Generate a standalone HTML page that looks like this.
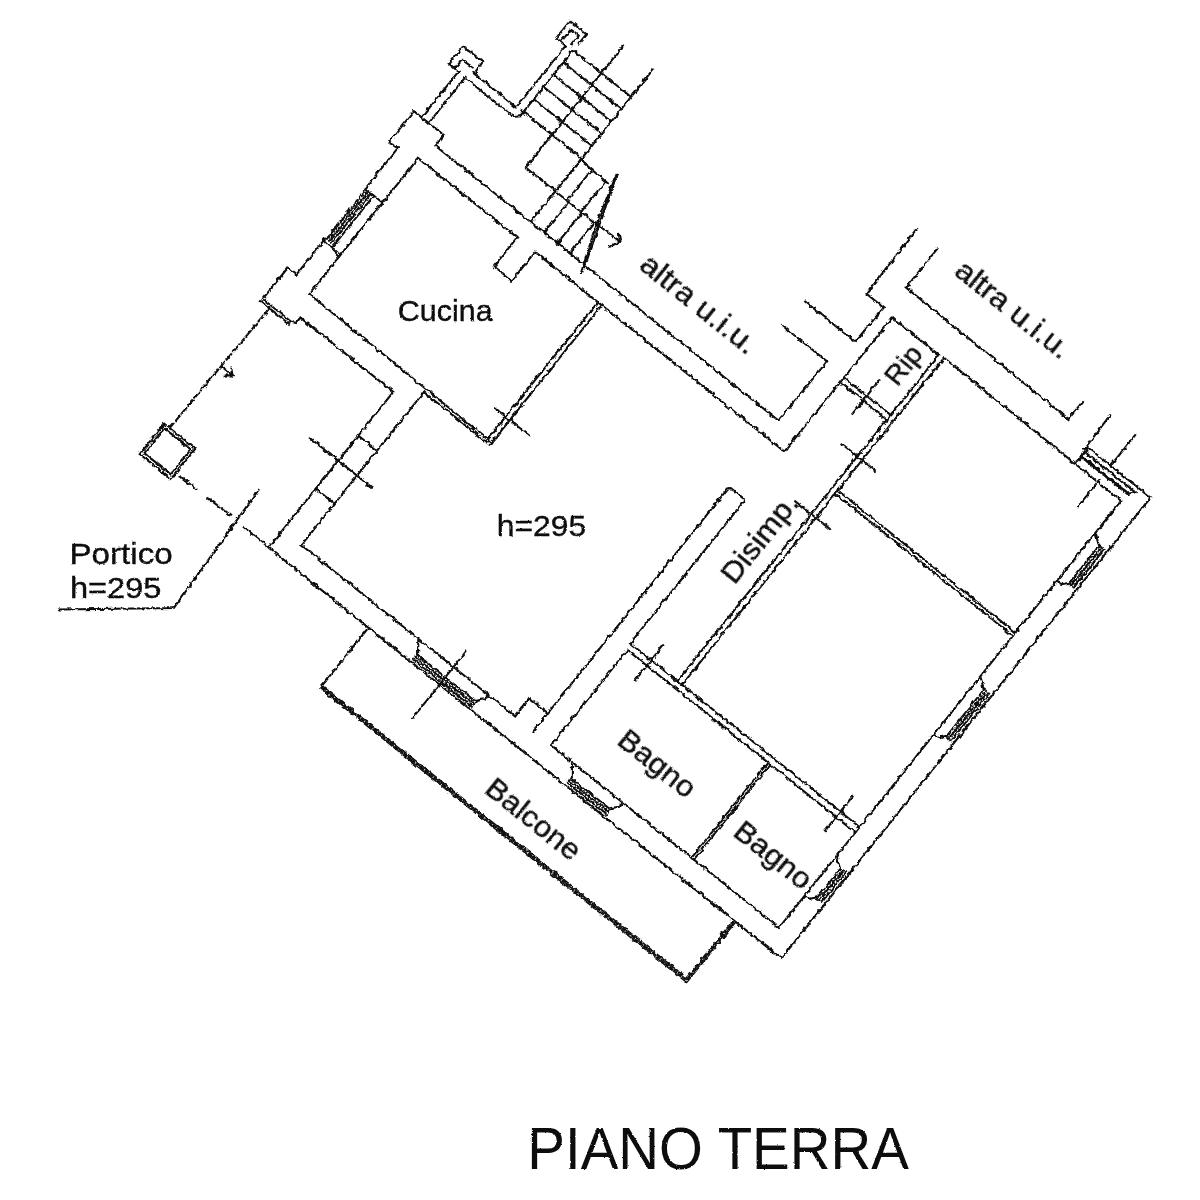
<!DOCTYPE html>
<html><head><meta charset="utf-8"><title>Piano Terra</title>
<style>
html,body{margin:0;padding:0;background:#fff;}
body{width:1200px;height:1200px;overflow:hidden;}
svg{display:block;}
text{font-family:"Liberation Sans",sans-serif;fill:#111;}
</style></head><body>
<svg width="1200" height="1200" viewBox="0 0 1200 1200">
<defs>
<filter id="rough" x="0" y="0" width="1200" height="1200" filterUnits="userSpaceOnUse">
<feTurbulence type="fractalNoise" baseFrequency="0.2" numOctaves="3" seed="7" result="n"/>
<feDisplacementMap in="SourceGraphic" in2="n" scale="4.2" xChannelSelector="R" yChannelSelector="G" result="d"/>
<feGaussianBlur in="d" stdDeviation="0.45"/>
</filter>
<filter id="soft" x="0" y="0" width="1200" height="1200" filterUnits="userSpaceOnUse">
<feTurbulence type="fractalNoise" baseFrequency="0.5" numOctaves="1" seed="3" result="n"/>
<feDisplacementMap in="SourceGraphic" in2="n" scale="2.2" xChannelSelector="R" yChannelSelector="G" result="d"/>
<feGaussianBlur in="d" stdDeviation="0.3"/>
</filter>
</defs>
<rect width="1200" height="1200" fill="#fff"/>
<g filter="url(#rough)" fill="none" stroke="#0c0c0c" stroke-width="2.1" stroke-linecap="square" stroke-linejoin="miter">
<g transform="rotate(38.7)">
<path d="M403.0,-133.0 L392.5,-132.0 L392.5,-172.0 L431.0,-172.0 L431.0,-158.5 L870.5,-158.5 L871.5,-235.0 L815.0,-235.0"/>
<path d="M817.0,-268.0 L881.0,-268.0 L882.0,-312.5 L860.0,-312.5 L858.5,-394.0"/>
<path d="M425.0,36.0 L425.5,-138.0 L552.0,-138.0 L552.0,-101.0 L575.0,-101.0 L575.0,-138.0 L894.5,-138.0 L895.0,-310.0 L955.0,-310.0"/>
<path d="M425.0,36.0 L660.0,38.0"/>
<path d="M576.0,41.0 L656.0,41.0"/>
<path d="M655.0,38.0 L655.5,-138.0"/>
<path d="M660.5,41.0 L660.5,-138.0"/>
<path d="M642.0,9.0 L685.0,9.0"/>
<path d="M403.0,-17.0 L403.0,29.0 L392.0,29.0 L392.0,69.0 L428.0,69.0 L433.0,67.0 L433.0,60.0 L552.0,60.0 L552.0,259.5 L1209.0,259.5 L1209.0,-331.0 L1128.0,-331.0"/>
<path d="M403.0,-133.0 L403.0,-81.0"/>
<path d="M403.0,-81.0 L424.0,-81.0"/>
<path d="M403.0,-15.0 L424.0,-13.0"/>
<path d="M414.0,-81.0 L414.0,-15.0"/>
<path d="M404.5,-79.0 L404.5,-18.0" stroke-width="1.9"/>
<path d="M407.5,-79.0 L407.5,-18.0" stroke-width="1.9"/>
<path d="M410.5,-79.0 L410.5,-18.0" stroke-width="1.9"/>
<path d="M403.0,-78.0 L411.0,-76.5" stroke-width="1.0"/>
<path d="M403.0,-74.2 L411.0,-72.7" stroke-width="1.0"/>
<path d="M403.0,-70.4 L411.0,-68.9" stroke-width="1.0"/>
<path d="M403.0,-66.6 L411.0,-65.1" stroke-width="1.0"/>
<path d="M403.0,-62.8 L411.0,-61.3" stroke-width="1.0"/>
<path d="M403.0,-59.0 L411.0,-57.5" stroke-width="1.0"/>
<path d="M403.0,-55.2 L411.0,-53.7" stroke-width="1.0"/>
<path d="M403.0,-51.4 L411.0,-49.9" stroke-width="1.0"/>
<path d="M403.0,-47.6 L411.0,-46.1" stroke-width="1.0"/>
<path d="M403.0,-43.8 L411.0,-42.3" stroke-width="1.0"/>
<path d="M403.0,-40.0 L411.0,-38.5" stroke-width="1.0"/>
<path d="M403.0,-36.2 L411.0,-34.7" stroke-width="1.0"/>
<path d="M403.0,-32.4 L411.0,-30.9" stroke-width="1.0"/>
<path d="M403.0,-28.6 L411.0,-27.1" stroke-width="1.0"/>
<path d="M403.0,-24.8 L411.0,-23.3" stroke-width="1.0"/>
<path d="M403.0,-21.0 L411.0,-19.5" stroke-width="1.0"/>
<path d="M392.0,72.0 L428.0,72.0"/>
<path d="M576.0,41.0 L576.0,237.0 L850.0,237.0 L850.0,214.0 L874.0,214.0"/>
<path d="M552.0,116.0 L574.0,116.0"/>
<path d="M552.0,184.0 L574.0,184.0"/>
<path d="M515.0,148.0 L595.0,148.0"/>
<path d="M873.5,237.0 L873.5,-74.0 L875.5,-76.0 L892.0,-76.0 L894.0,-74.0 L894.0,108.0"/>
<path d="M896.0,115.0 L896.0,237.0 L1076.0,237.0"/>
<path d="M1079.0,237.0 L1188.0,237.0"/>
<path d="M954.5,-310.0 L954.5,108.0"/>
<path d="M960.5,-310.0 L960.5,108.0"/>
<path d="M895.0,-233.0 L955.0,-233.0"/>
<path d="M897.0,-227.0 L955.0,-227.0"/>
<path d="M924.0,-253.0 L924.0,-210.0"/>
<path d="M934.0,-180.0 L978.0,-180.0"/>
<path d="M934.0,-106.0 L978.0,-106.0"/>
<path d="M960.0,-311.0 L1188.0,-310.0"/>
<path d="M887.0,-392.0 L887.0,-342.0 L1096.0,-341.0 L1096.0,-364.0"/>
<path d="M1128.0,-310.0 L1130.0,-320.0 L1129.0,-331.0"/>
<path d="M1130.0,-320.0 L1189.0,-320.0" stroke-width="3.4"/>
<path d="M1131.0,-325.5 L1192.0,-325.5" stroke-width="2.0"/>
<path d="M1189.0,-320.0 L1194.0,-326.0"/>
<path d="M1127.0,-327.0 L1126.0,-370.0"/>
<path d="M1158.0,-332.0 L1158.0,-370.0"/>
<path d="M1158.0,-279.0 L1158.0,-313.0"/>
<path d="M1188.0,-310.0 L1188.0,237.0"/>
<path d="M960.0,-141.0 L1188.0,-141.0"/>
<path d="M960.0,-137.0 L1188.0,-137.0"/>
<path d="M894.0,108.0 L1188.0,108.0"/>
<path d="M896.0,115.0 L1076.0,115.0"/>
<path d="M1079.0,115.0 L1188.0,115.0"/>
<path d="M921.0,89.0 L921.0,134.0"/>
<path d="M1163.3,88.0 L1163.3,133.0"/>
<path d="M1076.0,115.0 L1076.0,237.0"/>
<path d="M1079.0,115.0 L1079.0,237.0"/>
<path d="M1189.5,-268.0 L1199.0,-261.0"/>
<path d="M1189.5,-207.0 L1194.0,-208.0 L1199.0,-214.0"/>
<path d="M1199.0,-262.0 L1199.0,-213.0" stroke-width="1.9"/>
<path d="M1202.2,-262.0 L1202.2,-213.0" stroke-width="1.9"/>
<path d="M1205.4,-262.0 L1205.4,-213.0" stroke-width="1.9"/>
<path d="M1199.0,-262.0 L1206.0,-260.5" stroke-width="1.0"/>
<path d="M1199.0,-258.5 L1206.0,-257.0" stroke-width="1.0"/>
<path d="M1199.0,-255.0 L1206.0,-253.5" stroke-width="1.0"/>
<path d="M1199.0,-251.5 L1206.0,-250.0" stroke-width="1.0"/>
<path d="M1199.0,-248.0 L1206.0,-246.5" stroke-width="1.0"/>
<path d="M1199.0,-244.5 L1206.0,-243.0" stroke-width="1.0"/>
<path d="M1199.0,-241.0 L1206.0,-239.5" stroke-width="1.0"/>
<path d="M1199.0,-237.5 L1206.0,-236.0" stroke-width="1.0"/>
<path d="M1199.0,-234.0 L1206.0,-232.5" stroke-width="1.0"/>
<path d="M1199.0,-230.5 L1206.0,-229.0" stroke-width="1.0"/>
<path d="M1199.0,-227.0 L1206.0,-225.5" stroke-width="1.0"/>
<path d="M1199.0,-223.5 L1206.0,-222.0" stroke-width="1.0"/>
<path d="M1199.0,-220.0 L1206.0,-218.5" stroke-width="1.0"/>
<path d="M1199.0,-216.5 L1206.0,-215.0" stroke-width="1.0"/>
<path d="M1199.0,-213.0 L1206.0,-211.5" stroke-width="1.0"/>
<path d="M1189.5,-84.0 L1199.0,-77.0"/>
<path d="M1189.5,-11.0 L1194.0,-12.0 L1199.0,-18.0"/>
<path d="M1199.0,-78.0 L1199.0,-17.0" stroke-width="1.9"/>
<path d="M1202.2,-78.0 L1202.2,-17.0" stroke-width="1.9"/>
<path d="M1205.4,-78.0 L1205.4,-17.0" stroke-width="1.9"/>
<path d="M1199.0,-78.0 L1206.0,-76.5" stroke-width="1.0"/>
<path d="M1199.0,-74.4 L1206.0,-72.9" stroke-width="1.0"/>
<path d="M1199.0,-70.8 L1206.0,-69.3" stroke-width="1.0"/>
<path d="M1199.0,-67.2 L1206.0,-65.7" stroke-width="1.0"/>
<path d="M1199.0,-63.6 L1206.0,-62.1" stroke-width="1.0"/>
<path d="M1199.0,-60.1 L1206.0,-58.6" stroke-width="1.0"/>
<path d="M1199.0,-56.5 L1206.0,-55.0" stroke-width="1.0"/>
<path d="M1199.0,-52.9 L1206.0,-51.4" stroke-width="1.0"/>
<path d="M1199.0,-49.3 L1206.0,-47.8" stroke-width="1.0"/>
<path d="M1199.0,-45.7 L1206.0,-44.2" stroke-width="1.0"/>
<path d="M1199.0,-42.1 L1206.0,-40.6" stroke-width="1.0"/>
<path d="M1199.0,-38.5 L1206.0,-37.0" stroke-width="1.0"/>
<path d="M1199.0,-34.9 L1206.0,-33.4" stroke-width="1.0"/>
<path d="M1199.0,-31.4 L1206.0,-29.9" stroke-width="1.0"/>
<path d="M1199.0,-27.8 L1206.0,-26.3" stroke-width="1.0"/>
<path d="M1199.0,-24.2 L1206.0,-22.7" stroke-width="1.0"/>
<path d="M1199.0,-20.6 L1206.0,-19.1" stroke-width="1.0"/>
<path d="M1199.0,-17.0 L1206.0,-15.5" stroke-width="1.0"/>
<path d="M1189.5,146.0 L1199.0,153.0"/>
<path d="M1189.5,196.0 L1194.0,195.0 L1199.0,189.0"/>
<path d="M1199.0,152.0 L1199.0,190.0" stroke-width="1.9"/>
<path d="M1202.2,152.0 L1202.2,190.0" stroke-width="1.9"/>
<path d="M1205.4,152.0 L1205.4,190.0" stroke-width="1.9"/>
<path d="M1199.0,152.0 L1206.0,153.5" stroke-width="1.0"/>
<path d="M1199.0,155.8 L1206.0,157.3" stroke-width="1.0"/>
<path d="M1199.0,159.6 L1206.0,161.1" stroke-width="1.0"/>
<path d="M1199.0,163.4 L1206.0,164.9" stroke-width="1.0"/>
<path d="M1199.0,167.2 L1206.0,168.7" stroke-width="1.0"/>
<path d="M1199.0,171.0 L1206.0,172.5" stroke-width="1.0"/>
<path d="M1199.0,174.8 L1206.0,176.3" stroke-width="1.0"/>
<path d="M1199.0,178.6 L1206.0,180.1" stroke-width="1.0"/>
<path d="M1199.0,182.4 L1206.0,183.9" stroke-width="1.0"/>
<path d="M1199.0,186.2 L1206.0,187.7" stroke-width="1.0"/>
<path d="M1199.0,190.0 L1206.0,191.5" stroke-width="1.0"/>
<path d="M924.0,238.5 L933.0,250.0"/>
<path d="M988.0,238.5 L987.0,243.0 L981.0,250.0"/>
<path d="M932.0,250.0 L982.0,250.0" stroke-width="1.9"/>
<path d="M932.0,253.2 L982.0,253.2" stroke-width="1.9"/>
<path d="M932.0,256.4 L982.0,256.4" stroke-width="1.9"/>
<path d="M932.0,250.0 L933.5,257.0" stroke-width="1.0"/>
<path d="M935.6,250.0 L937.1,257.0" stroke-width="1.0"/>
<path d="M939.1,250.0 L940.6,257.0" stroke-width="1.0"/>
<path d="M942.7,250.0 L944.2,257.0" stroke-width="1.0"/>
<path d="M946.3,250.0 L947.8,257.0" stroke-width="1.0"/>
<path d="M949.9,250.0 L951.4,257.0" stroke-width="1.0"/>
<path d="M953.4,250.0 L954.9,257.0" stroke-width="1.0"/>
<path d="M957.0,250.0 L958.5,257.0" stroke-width="1.0"/>
<path d="M960.6,250.0 L962.1,257.0" stroke-width="1.0"/>
<path d="M964.1,250.0 L965.6,257.0" stroke-width="1.0"/>
<path d="M967.7,250.0 L969.2,257.0" stroke-width="1.0"/>
<path d="M971.3,250.0 L972.8,257.0" stroke-width="1.0"/>
<path d="M974.9,250.0 L976.4,257.0" stroke-width="1.0"/>
<path d="M978.4,250.0 L979.9,257.0" stroke-width="1.0"/>
<path d="M982.0,250.0 L983.5,257.0" stroke-width="1.0"/>
<path d="M680.0,260.0 L680.0,335.0"/>
<path d="M680.0,333.8 L1147.1,333.8 L1147.6,260.0" stroke-width="1.5"/>
<path d="M680.0,337.0 L1150.2,337.4 L1150.7,260.0" stroke-width="1.5"/>
<path d="M682.0,335.4 L1148.6,335.6 L1149.1,262.0" stroke-width="2.3" stroke-dasharray="2.5 3"/>
<path d="M727.0,238.5 L736.0,250.0"/>
<path d="M816.0,238.5 L815.0,243.0 L809.0,250.0"/>
<path d="M735.0,250.0 L810.0,250.0" stroke-width="1.9"/>
<path d="M735.0,253.2 L810.0,253.2" stroke-width="1.9"/>
<path d="M735.0,256.4 L810.0,256.4" stroke-width="1.9"/>
<path d="M735.0,250.0 L736.5,257.0" stroke-width="1.0"/>
<path d="M738.6,250.0 L740.1,257.0" stroke-width="1.0"/>
<path d="M742.1,250.0 L743.6,257.0" stroke-width="1.0"/>
<path d="M745.7,250.0 L747.2,257.0" stroke-width="1.0"/>
<path d="M749.3,250.0 L750.8,257.0" stroke-width="1.0"/>
<path d="M752.9,250.0 L754.4,257.0" stroke-width="1.0"/>
<path d="M756.4,250.0 L757.9,257.0" stroke-width="1.0"/>
<path d="M760.0,250.0 L761.5,257.0" stroke-width="1.0"/>
<path d="M763.6,250.0 L765.1,257.0" stroke-width="1.0"/>
<path d="M767.1,250.0 L768.6,257.0" stroke-width="1.0"/>
<path d="M770.7,250.0 L772.2,257.0" stroke-width="1.0"/>
<path d="M774.3,250.0 L775.8,257.0" stroke-width="1.0"/>
<path d="M777.9,250.0 L779.4,257.0" stroke-width="1.0"/>
<path d="M781.4,250.0 L782.9,257.0" stroke-width="1.0"/>
<path d="M785.0,250.0 L786.5,257.0" stroke-width="1.0"/>
<path d="M788.6,250.0 L790.1,257.0" stroke-width="1.0"/>
<path d="M792.1,250.0 L793.6,257.0" stroke-width="1.0"/>
<path d="M795.7,250.0 L797.2,257.0" stroke-width="1.0"/>
<path d="M799.3,250.0 L800.8,257.0" stroke-width="1.0"/>
<path d="M802.9,250.0 L804.4,257.0" stroke-width="1.0"/>
<path d="M806.4,250.0 L807.9,257.0" stroke-width="1.0"/>
<path d="M810.0,250.0 L811.5,257.0" stroke-width="1.0"/>
<path d="M771.0,217.0 L771.0,303.0"/>
<path d="M403.0,72.0 L400.0,228.0" stroke-dasharray="7 3"/>
<path d="M403.5,147.5 L416.0,147.5"/>
<path d="M416.0,147.5 L411.0,143.0"/>
<path d="M416.0,147.5 L411.0,152.0"/>
<path d="M393.0,228.0 L433.0,228.0 L433.0,267.0 L393.0,267.0 Z"/>
<path d="M396.0,231.5 L430.0,231.5 L430.0,263.5 L396.0,263.5 Z"/>
<path d="M439.0,259.0 L459.0,259.0"/>
<path d="M474.0,258.5 L502.0,258.5"/>
<path d="M520.0,259.0 L552.0,259.0"/>
<path d="M402.5,-172.0 L402.5,-231.0"/>
<path d="M411.5,-172.0 L411.5,-231.0"/>
<path d="M402.0,-231.0 L390.0,-231.0 L390.5,-253.0 L415.5,-254.0 L416.0,-240.0"/>
<path d="M398.0,-231.0 L398.0,-242.0 L411.0,-243.0"/>
<path d="M416.0,-239.0 L470.0,-239.0 L470.0,-318.0"/>
<path d="M411.5,-230.0 L473.0,-230.0 L478.5,-236.0 L478.5,-318.0"/>
<path d="M470.0,-318.0 L458.0,-318.0 L458.0,-340.0 L479.0,-340.0 L479.0,-328.0"/>
<path d="M464.0,-320.0 L464.0,-334.0 L474.0,-334.0 L474.0,-322.0"/>
<path d="M478.5,-319.0 L553.0,-319.0"/>
<path d="M478.5,-303.4 L553.0,-303.4"/>
<path d="M478.5,-287.7 L553.0,-287.7"/>
<path d="M478.5,-272.0 L553.0,-272.0"/>
<path d="M478.5,-256.4 L553.0,-256.4"/>
<path d="M476.0,-240.0 L553.0,-240.0"/>
<path d="M515.0,-354.0 L515.0,-198.0"/>
<path d="M553.0,-354.0 L553.0,-159.0"/>
<path d="M515.0,-198.0 L602.0,-198.0"/>
<path d="M553.0,-238.0 L589.0,-237.0"/>
<path d="M568.0,-237.0 L568.0,-198.0"/>
<path d="M586.0,-237.0 L586.0,-198.0"/>
<path d="M570.0,-198.0 L570.0,-159.0"/>
<path d="M587.0,-198.0 L587.0,-159.0"/>
<path d="M603.0,-198.0 L603.0,-159.0"/>
</g>
<path d="M616.5,175.0 L584.0,268.0" stroke-width="2.4"/>
<path d="M615.0,177.0 L596.5,224.0 L581.0,273.0"/>
<path d="M596.0,223.5 L620.0,241.5"/>
<path d="M620.0,241.5 L619.0,234.0"/>
<path d="M620.0,241.5 L610.0,246.5"/>
<path d="M258.5,490.0 L173.8,608.0 L60.0,609.5"/>
</g>
<g filter="url(#soft)">
<text transform="translate(397.8,321) rotate(0) scale(1.015,1)" font-size="30" text-anchor="start" letter-spacing="0" stroke="#111" stroke-width="0.4">Cucina</text>
<text transform="translate(496.8,536.3) rotate(0) scale(1.062,1)" font-size="30" text-anchor="start" letter-spacing="0" stroke="#111" stroke-width="0.4">h=295</text>
<text transform="translate(69.5,563.8) rotate(0) scale(1.106,1)" font-size="30" text-anchor="start" letter-spacing="0" stroke="#111" stroke-width="0.4">Portico</text>
<text transform="translate(70,597.9) rotate(0) scale(1.086,1)" font-size="30" text-anchor="start" letter-spacing="0" stroke="#111" stroke-width="0.4">h=295</text>
<text transform="translate(638,268) rotate(38.7) scale(1.065,1)" font-size="30" text-anchor="start" letter-spacing="0" stroke="#111" stroke-width="0.4">altra u.i.u.</text>
<text transform="translate(953,274) rotate(38.7) scale(1.05,1)" font-size="30" text-anchor="start" letter-spacing="0" stroke="#111" stroke-width="0.4">altra u.i.u.</text>
<text transform="translate(615.7,743.1) rotate(38.7) scale(1.04,1)" font-size="30" text-anchor="start" letter-spacing="0" stroke="#111" stroke-width="0.4">Bagno</text>
<text transform="translate(731.7,834.6) rotate(38.7) scale(1.04,1)" font-size="30" text-anchor="start" letter-spacing="0" stroke="#111" stroke-width="0.4">Bagno</text>
<text transform="translate(483.2,791.6) rotate(38.7) scale(1.04,1)" font-size="30" text-anchor="start" letter-spacing="0" stroke="#111" stroke-width="0.4">Balcone</text>
<text transform="translate(734.5,585.5) rotate(-51.3) scale(1.05,1)" font-size="30" text-anchor="start" letter-spacing="0" stroke="#111" stroke-width="0.4">Disimp.</text>
<text transform="translate(897.4,387.5) rotate(-51.3) scale(1.05,1)" font-size="27" text-anchor="start" letter-spacing="0" stroke="#111" stroke-width="0.4">Rip</text>
<text transform="translate(527.3,1169.4) rotate(0) scale(0.957,1)" font-size="59" text-anchor="start" letter-spacing="0" stroke="#111" stroke-width="0">PIANO TERRA</text>
</g>
</svg>
</body></html>
